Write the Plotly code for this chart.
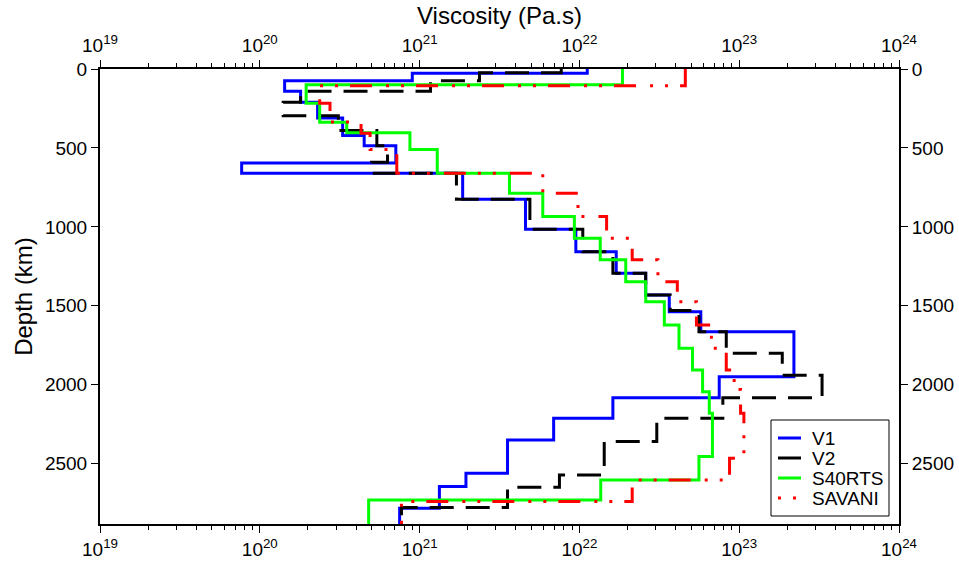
import plotly.graph_objects as go

# ---------------- data (layer top depths in km, viscosity in Pa.s) ----------------
v1_depth = [0, 27, 74, 141, 211, 310, 422, 486, 595, 660, 825, 1015, 1157, 1294, 1431,
            1537, 1664, 1949, 2083, 2212, 2350, 2560, 2645, 2782]
v1_visc = [1.12e22, 9.0e20, 1.43e20, 1.8e20, 2.3e20, 3.3e20, 4.5e20, 7.1e20, 7.7e19, 1.86e21,
           4.6e21, 9.5e21, 1.7e22, 2.6e22, 3.65e22, 5.75e22, 2.2e23, 7.5e22, 1.62e22, 6.9e21,
           3.55e21, 1.95e21, 1.33e21, 7.5e20]

v2_depth = [0, 24, 74, 141, 210, 296, 390, 486, 591, 660, 825, 1015, 1157, 1294, 1431,
            1530, 1664, 1800, 1940, 2083, 2212, 2360, 2571, 2649, 2778]
v2_visc = [7.7e21, 2.37e21, 1.17e21, 1.8e20, 1.4e20, 3.1e20, 5.4e20, 6.3e20, 5.0e20, 1.7e21,
           4.9e21, 1.05e22, 1.62e22, 2.6e22, 3.7e22, 5.6e22, 8.3e22, 1.86e23, 3.3e23, 7.9e22,
           3.05e22, 1.43e22, 7.5e21, 3.55e21, 7.7e20]

s40_depth = [0, 100, 217, 338, 404, 510, 660, 787, 935, 1072, 1209, 1347, 1474, 1621, 1769,
             1906, 2044, 2181, 2455, 2603, 2730]
s40_visc = [1.86e22, 1.95e20, 2.37e20, 3.5e20, 8.7e20, 1.29e21, 3.65e21, 5.9e21, 9.3e21,
            1.35e22, 1.95e22, 2.6e22, 3.4e22, 4.2e22, 5.1e22, 5.9e22, 6.5e22, 6.8e22, 5.6e22,
            1.36e22, 4.8e20]

sav_depth = [0, 106, 217, 336, 407, 510, 660, 787, 935, 1072, 1209, 1347, 1474, 1621, 1769,
             1906, 2030, 2181, 2465, 2603, 2740]
sav_visc = [4.6e22, 2.37e20, 2.75e20, 4.3e20, 4.9e20, 7.2e20, 5.9e21, 9.8e21, 1.48e22,
            2.14e22, 3.1e22, 4.1e22, 5.4e22, 6.7e22, 8.3e22, 9.3e22, 1.02e23, 1.07e23, 8.7e22,
            2.14e22, 7.7e20]

cmb_depth = 2882
depth_ticks = [0, 500, 1000, 1500, 2000, 2500]
x_exponents = [19, 20, 21, 22, 23, 24]

series = [
    ("V1", v1_depth, v1_visc, dict(color="#0000FF", width=3)),
    ("V2", v2_depth, v2_visc, dict(color="#000000", width=3, dash="24px,12px")),
    ("S40RTS", s40_depth, s40_visc, dict(color="#00FF00", width=3)),
    ("SAVANI", sav_depth, sav_visc, dict(color="#FF0000", width=3,
                                         dash="22px,12px,3px,12px,3px,14px")),
]
# dash used for the short legend samples
legend_dash = {"V1": "solid", "V2": "solid", "S40RTS": "solid", "SAVANI": "3px,12px"}

FONT = "Liberation Sans, Arial, Helvetica, sans-serif"

# plot-area geometry (pixels) used to place the hand-drawn legend
L, R, T, B = 100, 899, 69, 524
W, H = R - L, B - T


def px(xp):
    return (xp - L) / W


def py(yp):
    return (B - yp) / H


fig = go.Figure()
for name, d, v, line in series:
    fig.add_trace(go.Scatter(
        x=v + [v[-1]], y=d + [cmb_depth], mode="lines", name=name,
        line=dict(shape="vh", **line), showlegend=False,
    ))

# invisible copy on the mirrored (top / right) axes so that they get drawn
fig.add_trace(go.Scatter(
    x=v1_visc + [v1_visc[-1]], y=v1_depth + [cmb_depth], xaxis="x2", yaxis="y2",
    mode="lines", line=dict(shape="vh", color="rgba(0,0,0,0)", width=0),
    showlegend=False, hoverinfo="skip",
))

# legend box
shapes = [dict(type="rect", xref="paper", yref="paper",
               x0=px(771), x1=px(889), y0=py(516), y1=py(420),
               line=dict(color="black", width=1), fillcolor="white", layer="above")]
annotations = []
for i, (name, d, v, line) in enumerate(series):
    yc = 438 + 20 * i
    shapes.append(dict(type="line", xref="paper", yref="paper",
                       x0=px(778), x1=px(801), y0=py(yc), y1=py(yc), layer="above",
                       line=dict(color=line["color"], width=3, dash=legend_dash[name])))
    annotations.append(dict(text=name, xref="paper", yref="paper", x=px(810), y=py(yc),
                            xanchor="left", yanchor="middle", showarrow=False,
                            font=dict(family=FONT, size=19, color="black")))

major = [10.0 ** e for e in x_exponents]
major_txt = ["10<sup>%d</sup>" % e for e in x_exponents]
minor = [k * 10.0 ** e for e in x_exponents[:-1] for k in range(2, 10)]

xcommon = dict(
    type="log", range=[19, 24], tickmode="array", tickvals=major, ticktext=major_txt,
    ticks="outside", ticklen=7, tickwidth=1, tickcolor="black",
    showgrid=False, zeroline=False, showline=True, linecolor="black", linewidth=2,
    tickfont=dict(family=FONT, size=19, color="black"), automargin=False,
    minor=dict(tickmode="array", tickvals=minor, ticks="outside", ticklen=4,
               tickwidth=1, tickcolor="black", showgrid=False),
)
ycommon = dict(
    range=[cmb_depth, 0], tickmode="array", tickvals=depth_ticks,
    ticks="outside", ticklen=7, tickwidth=1, tickcolor="black",
    showgrid=False, zeroline=False, showline=True, linecolor="black", linewidth=2,
    tickfont=dict(family=FONT, size=19, color="black"), automargin=False,
)

fig.update_layout(
    width=959, height=564,
    margin=dict(l=L, r=959 - R, t=T, b=564 - B),
    plot_bgcolor="white", paper_bgcolor="white",
    font=dict(family=FONT, color="black"),
    xaxis=dict(side="bottom", anchor="y", **xcommon),
    xaxis2=dict(side="top", overlaying="x", anchor="y",
                title=dict(text="Viscosity (Pa.s)", font=dict(family=FONT, size=24), standoff=1),
                **xcommon),
    yaxis=dict(side="left", anchor="x",
               title=dict(text="Depth (km)", font=dict(family=FONT, size=24), standoff=6),
               **ycommon),
    yaxis2=dict(side="right", overlaying="y", anchor="x", **ycommon),
    showlegend=False,
    shapes=shapes,
    annotations=annotations,
)

fig.write_html("out.html", config={"displayModeBar": False},
               post_script="document.body.style.margin='0px';")
